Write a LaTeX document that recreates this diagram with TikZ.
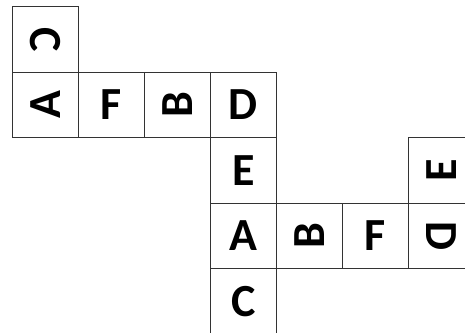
\documentclass[tikz,border=0pt]{standalone}
\usepackage{fontspec}
\setmainfont{Carlito}
\begin{document}
\begin{tikzpicture}[x=1pt,y=-1pt,
  cell/.style={draw=black!80,line width=0.9pt,minimum width=66pt,minimum height=65.6pt,inner sep=0pt,anchor=north west},
  letter/.style={font=\fontsize{46}{46}\selectfont\bfseries,inner sep=0pt}]
\useasboundingbox (0,0) rectangle (465,332);
% top-left column
\node[cell] (c1) at (12,6) {};
\node[cell] (a1) at (12,71.6) {};
\node[cell] (f1) at (78,71.6) {};
\node[cell] (b1) at (144,71.6) {};
\node[cell] (d1) at (210,71.6) {};
\node[cell] (e1) at (210,137.2) {};
\node[cell] (a2) at (210,202.8) {};
\node[cell] (b2) at (276,202.8) {};
\node[cell] (f2) at (342,202.8) {};
\node[cell] (d2) at (408,202.8) {};
\node[cell] (e2) at (408,137.2) {};
\node[cell] (c2) at (210,268.4) {};
% letters
\node[letter,rotate=-90] at (c1) {C};
\node[letter,rotate=90] at (a1) {A};
\node[letter] at (f1) {F};
\node[letter,rotate=90] at (b1) {B};
\node[letter] at (d1) {D};
\node[letter] at (e1) {E};
\node[letter] at (a2) {A};
\node[letter,rotate=90] at (b2) {B};
\node[letter] at (f2) {F};
\node[letter,rotate=-90] at (d2) {D};
\node[letter,rotate=90] at (e2) {E};
\node[letter] at (c2) {C};
\end{tikzpicture}
\end{document}
